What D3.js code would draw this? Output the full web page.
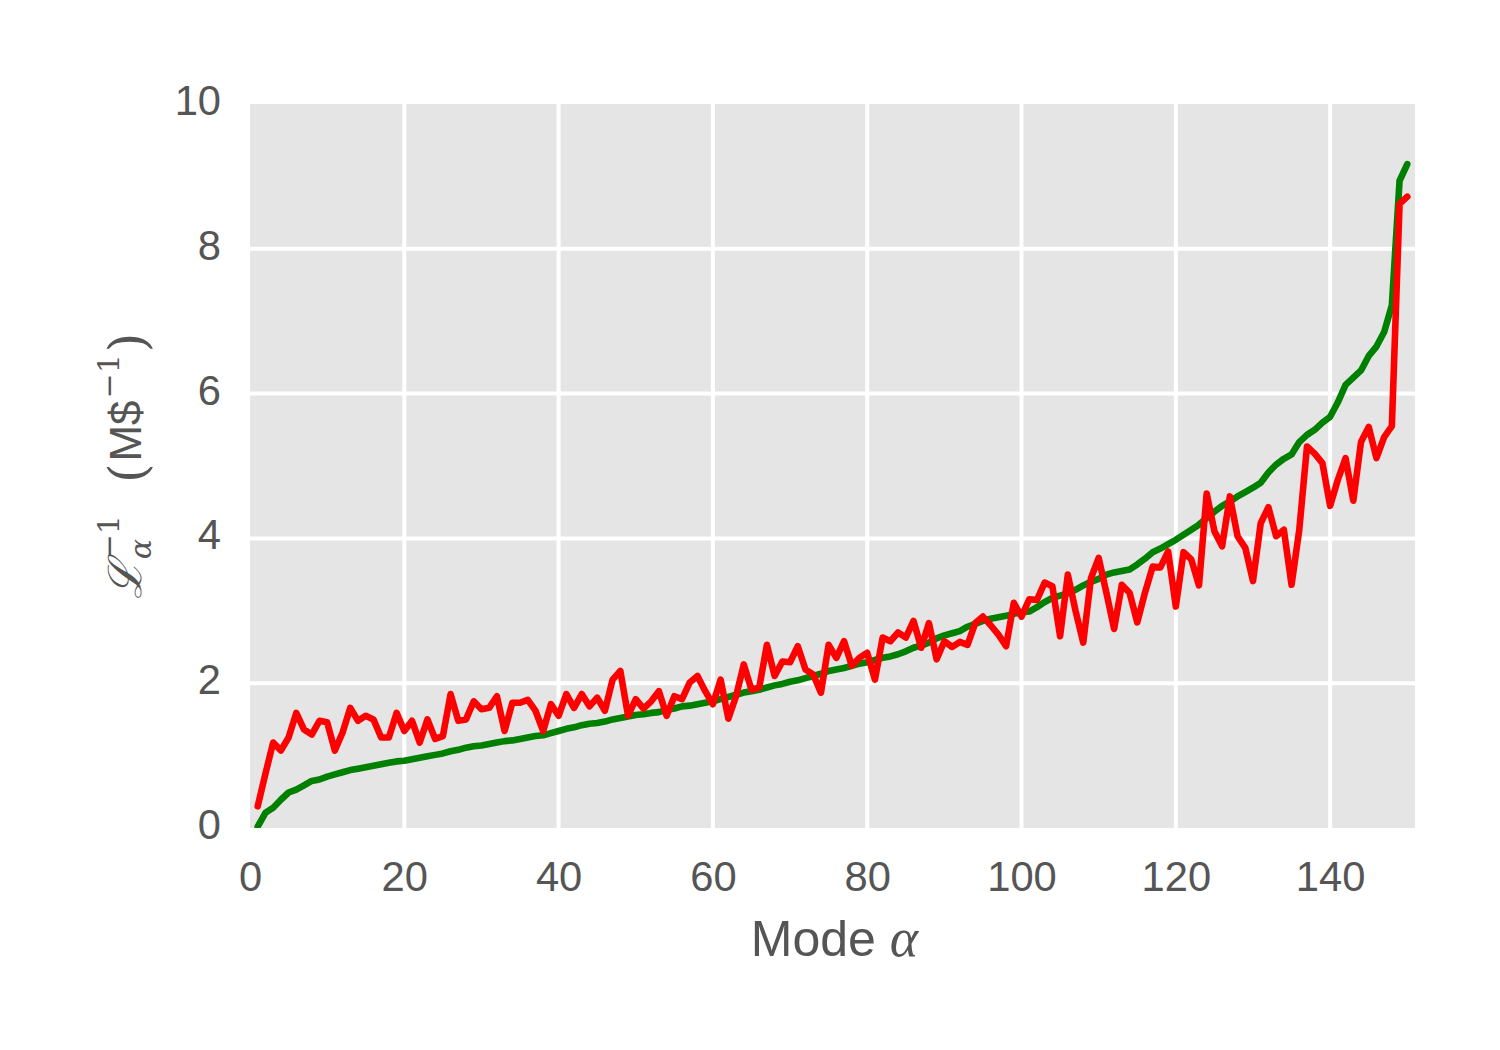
<!DOCTYPE html>
<html>
<head>
<meta charset="utf-8">
<script src="https://cdn.jsdelivr.net/npm/d3@7"></script>
<style>
  html, body { margin: 0; padding: 0; background: #ffffff; }
  svg { display: block; }
</style>
</head>
<body>
<svg id="chart" width="1500" height="1050"></svg>
<script>
// ---- data ----
const modes = d3.range(1, 151);
const greenValues = [
  0.02,0.21,0.28,0.39,0.49,0.53,0.59,0.65,0.67,0.71,
  0.74,0.77,0.80,0.82,0.84,0.86,0.88,0.90,0.92,0.93,
  0.95,0.97,0.99,1.01,1.03,1.06,1.08,1.11,1.13,1.14,
  1.16,1.18,1.20,1.21,1.23,1.25,1.27,1.28,1.31,1.34,
  1.37,1.39,1.42,1.44,1.45,1.47,1.50,1.52,1.54,1.56,
  1.57,1.59,1.60,1.63,1.65,1.68,1.69,1.71,1.73,1.75,
  1.78,1.81,1.84,1.87,1.89,1.91,1.94,1.97,1.99,2.02,
  2.04,2.07,2.10,2.13,2.17,2.19,2.21,2.24,2.27,2.29,
  2.32,2.35,2.37,2.40,2.44,2.49,2.52,2.56,2.62,2.66,
  2.69,2.72,2.78,2.82,2.86,2.89,2.91,2.93,2.96,2.98,
  2.99,3.05,3.12,3.18,3.21,3.24,3.29,3.35,3.40,3.44,
  3.50,3.53,3.55,3.57,3.64,3.72,3.81,3.86,3.92,3.98,
  4.05,4.12,4.19,4.28,4.37,4.45,4.51,4.58,4.64,4.70,
  4.77,4.91,5.02,5.10,5.16,5.33,5.43,5.50,5.60,5.68,
  5.88,6.12,6.22,6.32,6.52,6.65,6.85,7.22,8.94,9.17
];
const redValues = [
  0.30,0.75,1.18,1.07,1.25,1.59,1.36,1.29,1.48,1.46,
  1.07,1.32,1.66,1.48,1.55,1.50,1.25,1.25,1.59,1.34,
  1.48,1.18,1.50,1.23,1.27,1.85,1.48,1.50,1.75,1.64,
  1.66,1.82,1.34,1.73,1.73,1.77,1.62,1.34,1.71,1.55,
  1.85,1.66,1.85,1.68,1.80,1.62,2.05,2.17,1.55,1.78,
  1.65,1.75,1.89,1.55,1.82,1.78,2.01,2.10,1.89,1.71,
  2.05,1.51,1.82,2.26,1.91,1.94,2.53,2.10,2.30,2.29,
  2.51,2.19,2.12,1.87,2.53,2.35,2.58,2.24,2.35,2.42,
  2.05,2.63,2.58,2.70,2.63,2.86,2.49,2.83,2.33,2.58,
  2.50,2.57,2.53,2.83,2.92,2.80,2.67,2.51,3.11,2.92,
  3.16,3.15,3.39,3.34,2.65,3.50,3.00,2.56,3.45,3.73,
  3.25,2.75,3.36,3.25,2.84,3.25,3.61,3.60,3.82,3.06,
  3.81,3.71,3.35,4.62,4.10,3.89,4.58,4.03,3.87,3.41,
  4.21,4.43,4.03,4.12,3.36,4.12,5.27,5.17,5.04,4.45,
  4.81,5.11,4.52,5.33,5.54,5.11,5.40,5.55,8.62,8.72
];
const xTicks = [0, 20, 40, 60, 80, 100, 120, 140];
const yTicks = [0, 2, 4, 6, 8, 10];
const xDomain = [0, 151];
const yDomain = [0, 10];

// ---- layout ----
const svg = d3.select("#chart");
const plot = { left: 250, right: 1415, top: 104, bottom: 828 };
const x = d3.scaleLinear().domain(xDomain).range([plot.left, plot.right]);
const y = d3.scaleLinear().domain(yDomain).range([plot.bottom, plot.top]);

const tickFont = "'Liberation Sans', Arial, sans-serif";
const textColor = "#555555";

svg.append("defs").append("clipPath").attr("id", "plotclip")
  .append("rect")
  .attr("x", plot.left).attr("y", plot.top)
  .attr("width", plot.right - plot.left).attr("height", plot.bottom - plot.top);

// background
svg.append("rect")
  .attr("x", plot.left).attr("y", plot.top)
  .attr("width", plot.right - plot.left).attr("height", plot.bottom - plot.top)
  .attr("fill", "#E5E5E5");

// grid
const grid = svg.append("g").attr("clip-path", "url(#plotclip)");
grid.selectAll("line.vx").data(xTicks.filter(d => d > xDomain[0]))
  .enter().append("line")
  .attr("x1", d => x(d)).attr("x2", d => x(d))
  .attr("y1", plot.top).attr("y2", plot.bottom)
  .attr("stroke", "#ffffff").attr("stroke-width", 4);
grid.selectAll("line.hy").data(yTicks.filter(d => d > yDomain[0] && d < yDomain[1]))
  .enter().append("line")
  .attr("y1", d => y(d)).attr("y2", d => y(d))
  .attr("x1", plot.left).attr("x2", plot.right)
  .attr("stroke", "#ffffff").attr("stroke-width", 4);

// axes (tick labels only, no spines / tick marks)
const xAxis = d3.axisBottom(x).tickValues(xTicks).tickSize(0).tickPadding(0).tickFormat(d3.format("d"));
const gx = svg.append("g").attr("transform", `translate(0,${plot.bottom})`).call(xAxis);
gx.select(".domain").remove();
gx.selectAll("text")
  .attr("y", 63).attr("dy", null)
  .attr("font-family", tickFont).attr("font-size", 41.7)
  .attr("fill", textColor);

const yAxis = d3.axisLeft(y).tickValues(yTicks).tickSize(0).tickPadding(0).tickFormat(d3.format("d"));
const gy = svg.append("g").attr("transform", `translate(${plot.left},0)`).call(yAxis);
gy.select(".domain").remove();
gy.selectAll("text")
  .attr("x", -29).attr("dy", "0.25em")
  .attr("font-family", tickFont).attr("font-size", 41.7)
  .attr("fill", textColor);

// lines
const lines = svg.append("g").attr("clip-path", "url(#plotclip)");
const lineGen = d3.line().x(d => x(d[0])).y(d => y(d[1]));
lines.append("path")
  .datum(modes.map((m, i) => [m, greenValues[i]]))
  .attr("d", lineGen).attr("fill", "none")
  .attr("stroke", "#008000").attr("stroke-width", 6.6)
  .attr("stroke-linejoin", "round").attr("stroke-linecap", "round");
lines.append("path")
  .datum(modes.map((m, i) => [m, redValues[i]]))
  .attr("d", lineGen).attr("fill", "none")
  .attr("stroke", "#FF0000").attr("stroke-width", 6.6)
  .attr("stroke-linejoin", "round").attr("stroke-linecap", "round");

// x label
const xl = svg.append("text")
  .attr("x", (plot.left + plot.right) / 2 + 2).attr("y", 956)
  .attr("text-anchor", "middle")
  .attr("font-family", tickFont).attr("font-size", 50).attr("fill", textColor);
xl.append("tspan").text("Mode ");
xl.append("tspan").attr("font-family", "'Liberation Serif', 'DejaVu Serif', serif").attr("font-style", "italic").attr("font-size", 54).text("α");

// y label built from pieces in a rotated group
const yl = svg.append("g");
const base = 44, small = 30;
let cx = 0;
function piece(txt, opts) {
  const t = yl.append("text").attr("x", cx).attr("y", opts.dy || 0)
    .attr("font-family", opts.family || tickFont)
    .attr("font-size", opts.size || base)
    .attr("font-style", opts.style || "normal")
    .attr("font-weight", opts.weight || "normal")
    .attr("fill", textColor).text(txt);
  return t.node().getComputedTextLength();
}
let w = piece("ℒ", { family: "'DejaVu Serif', serif", style: "italic", size: 46 });
cx += w + 2;
const w1 = piece("−1", { family: "'DejaVu Serif', serif", size: small, dy: -22 });
const w2 = piece("α", { family: "'DejaVu Serif', serif", style: "italic", size: small, dy: 10 });
cx += Math.max(w1, w2) + 32;
w = piece("(", { family: "'DejaVu Serif', serif", size: 50, weight: 300, dy: 4 });
cx += w + 2;
w = piece("M$", { size: base });
cx += w + 2;
w = piece("−1", { family: "'DejaVu Serif', serif", size: small, dy: -22 });
cx += w + 2;
w = piece(")", { family: "'DejaVu Serif', serif", size: 50, weight: 300, dy: 4 });
cx += w;
const totalW = cx;
const yCenter = 466;
yl.attr("transform", `translate(141, ${yCenter + totalW / 2}) rotate(-90)`);
</script>
</body>
</html>
